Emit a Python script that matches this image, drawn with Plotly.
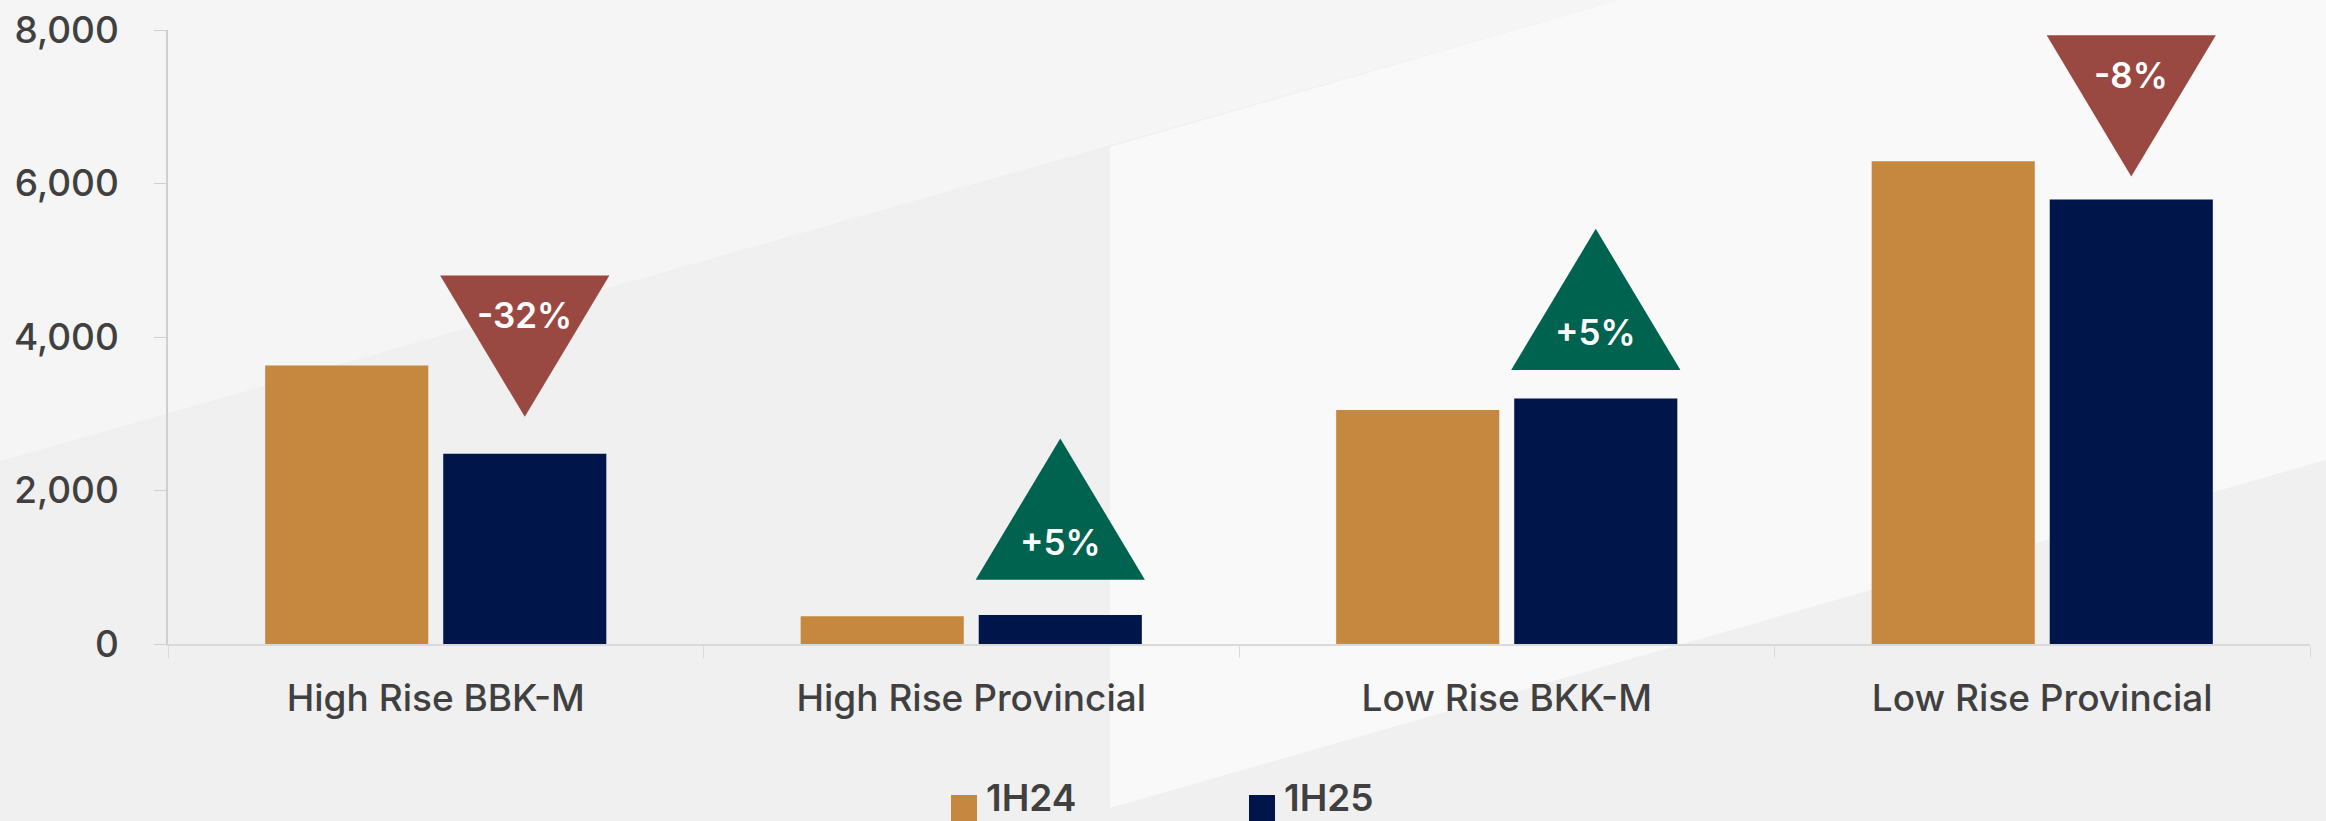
import plotly.graph_objects as go

categories = ["High Rise BBK-M", "High Rise Provincial", "Low Rise BKK-M", "Low Rise Provincial"]
series_names = ["1H24", "1H25"]
values_1h24 = [3630, 360, 3050, 6290]
values_1h25 = [2480, 378, 3200, 5790]
y_ticks = [0, 2000, 4000, 6000, 8000]

# gap between the 1H25 bar top and its change marker (data units)
badge_gap = [480, 460, 370, 300]

ORANGE = "#C5883E"
NAVY = "#00164A"
RED = "#9A4942"
GREEN = "#00634F"
TEXT = "#404040"
FONT = "Inter"

W, H = 2326, 821
L, R, T, B = 168, 16, 30, 177
BARGAP, GROUPGAP = 0.335, 0.084
BADGE_W = 0.316
BADGE_H = 1840


def px(x):
    return (x - L) / (W - L - R)


def py(y):
    return (H - B - y) / (H - T - B)


fig = go.Figure()
for name, vals, color in [(series_names[0], values_1h24, ORANGE),
                          (series_names[1], values_1h25, NAVY)]:
    fig.add_trace(go.Bar(name=name, x=categories, y=vals, marker_color=color,
                         marker_line_width=0, showlegend=False))

# background panels
bg = [
    ([(0, 0), (1620, 0), (0, 461)], "#f5f5f5"),
    ([(1110, 147), (1620, 0), (W, 0), (W, 460), (1110, 808)], "#f9f9f9"),
    ([(1110, 808), (W, 460), (W, H), (1110, H)], "#f1f0f0"),
]
shapes = []
for pts, col in bg:
    path = "M" + " L".join(f"{px(x):.5f},{py(y):.5f}" for x, y in pts) + " Z"
    shapes.append(dict(type="path", path=path, xref="paper", yref="paper",
                       fillcolor=col, line_width=0, layer="below"))

# change markers over the 1H25 bars
annotations = []
offset = (1 - BARGAP) / 4
for i, (a, b) in enumerate(zip(values_1h24, values_1h25)):
    chg = (b / a - 1) * 100
    xc = i + offset
    base = b + badge_gap[i]
    if chg < 0:
        top = base + BADGE_H
        path = f"M{xc - BADGE_W / 2},{top} L{xc + BADGE_W / 2},{top} L{xc},{base} Z"
        ty = top - 0.28 * BADGE_H
        col = RED
    else:
        path = f"M{xc - BADGE_W / 2},{base} L{xc + BADGE_W / 2},{base} L{xc},{base + BADGE_H} Z"
        ty = base + 0.27 * BADGE_H
        col = GREEN
    shapes.append(dict(type="path", path=path, xref="x2", yref="y",
                       fillcolor=col, line_width=0, layer="above"))
    annotations.append(dict(x=xc, y=ty, xref="x2", yref="y", text=f"{chg:+.0f}%",
                            showarrow=False, yanchor="middle",
                            font=dict(family=FONT, size=35, color="white", weight=600)))

# legend drawn by hand so it can sit right on the bottom edge like the original
for name, col, sx in [(series_names[0], ORANGE, 951), (series_names[1], NAVY, 1249)]:
    shapes.append(dict(type="rect", xref="paper", yref="paper",
                       x0=px(sx), x1=px(sx + 26), y0=py(795), y1=py(H + 20),
                       fillcolor=col, line_width=0))
    annotations.append(dict(x=px(sx + 34), y=py(H), xref="paper", yref="paper",
                            text=name, showarrow=False, xanchor="left", yanchor="bottom",
                            borderpad=0,
                            font=dict(family=FONT, size=37, color=TEXT, weight=600)))

fig.update_layout(
    width=W, height=H,
    margin=dict(l=L, r=R, t=T, b=B, autoexpand=False),
    paper_bgcolor="#f0f0f0",
    plot_bgcolor="rgba(0,0,0,0)",
    barmode="group",
    bargap=BARGAP,
    bargroupgap=GROUPGAP,
    showlegend=False,
    shapes=shapes,
    annotations=annotations,
    font=dict(family=FONT, color=TEXT),
    xaxis=dict(
        range=[-0.5, 3.5], showgrid=False, showline=True, linecolor="#d9d9d9",
        linewidth=2, ticks="outside", tickson="boundaries", ticklen=12,
        tickcolor="#d9d9d9", tickwidth=1, ticklabelstandoff=21,
        tickfont=dict(family=FONT, size=37, color=TEXT, weight=500),
    ),
    xaxis2=dict(range=[-0.5, 3.5], overlaying="x", visible=False),
    yaxis=dict(
        range=[0, 8000], tickvals=y_ticks, tickformat=",", showgrid=False,
        zeroline=False, showline=True, linecolor="#cfcfcf", linewidth=1.5,
        ticks="outside", ticklen=12, tickcolor="#cfcfcf", ticklabelstandoff=28,
        tickfont=dict(family=FONT, size=37, color=TEXT, weight=500),
    ),
)

# drop the browser's default body margin so the figure fills the window
fig.write_html("out.html", config={"displayModeBar": False},
               post_script="document.body.style.margin='0';")
